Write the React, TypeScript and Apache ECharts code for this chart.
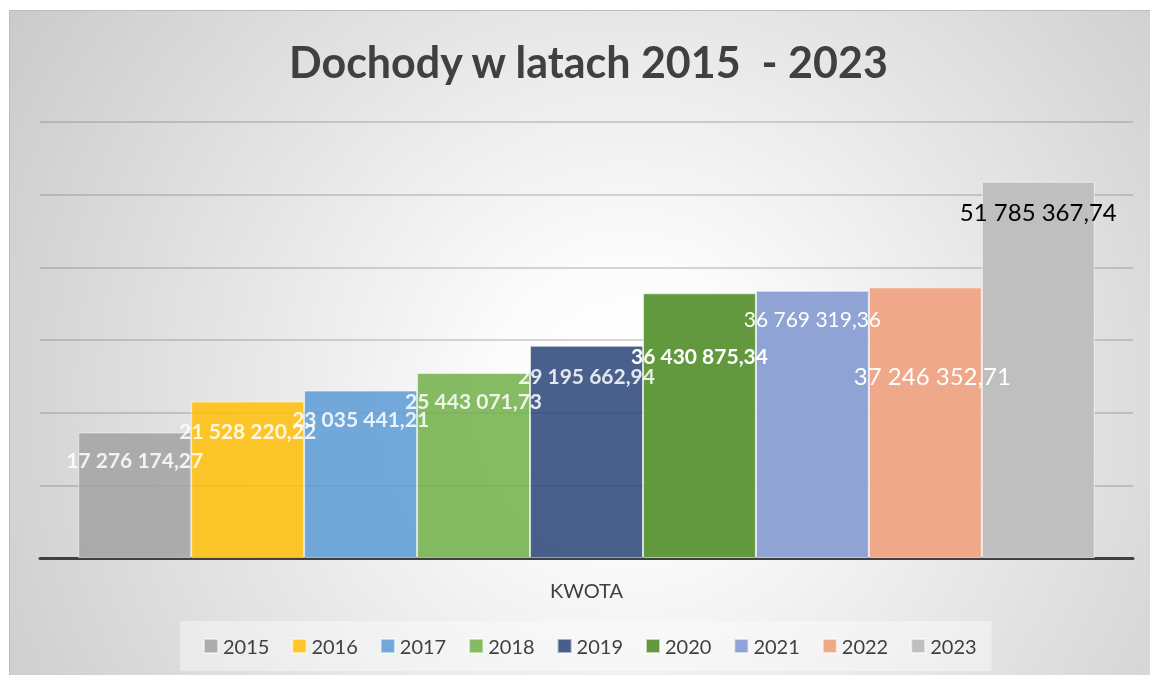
import React, { useEffect, useRef } from "react";
import * as echarts from "echarts";

const categories = ["KWOTA"];
const years = ["2015", "2016", "2017", "2018", "2019", "2020", "2021", "2022", "2023"];
const values = [
  17276174.27, 21528220.22, 23035441.21, 25443071.73, 29195662.94,
  36430875.34, 36769319.36, 37246352.71, 51785367.74,
];

const colors = ["#A2A2A2", "#FFBF08", "#5B9BD5", "#70AF48", "#284477", "#62993E", "#8FA3D4", "#F0A88A", "#BFBFBF"];
const opacities = [0.85, 0.85, 0.85, 0.85, 0.85, 1, 1, 1, 1];
const labelColors = ["#fff", "#fff", "#fff", "#fff", "#fff", "#fff", "#fff", "#fff", "#000"];
const labelWeights = ["bold", "bold", "bold", "bold", "bold", "bold", "normal", "normal", "normal"];
const labelSizes = [21, 21, 21, 21, 21, 21, 21, 24, 24];
const labelDistances = [17, 18, 17, 17, 19, 52, 17, 76, 18];
const labelShiftX = [0, 0, 0, 0, 0, 0, 0, 7, 0];

function fmt(v: number): string {
  const [i, d] = v.toFixed(2).split(".");
  return i.replace(/\B(?=(\d{3})+(?!\d))/g, " ") + "," + d;
}

export default function App() {
  const ref = useRef<HTMLDivElement>(null);
  useEffect(() => {
    if (!ref.current) return;
    const chart = echarts.init(ref.current, undefined, { renderer: "svg" });
    const font = "Lato, 'Open Sans', sans-serif";
    chart.setOption({
      animation: false,
      backgroundColor: {
        type: "radial",
        x: 620,
        y: 390,
        r: 880,
        global: true,
        colorStops: [
          { offset: 0, color: "#ffffff" },
          { offset: 0.15, color: "#fcfcfc" },
          { offset: 1, color: "#bebebe" },
        ],
      },
      title: {
        text: "Dochody w latach 2015  - 2023",
        left: 275,
        top: 25,
        textStyle: { fontSize: 43, fontWeight: "bold", color: "#404040", fontFamily: font },
      },
      graphic: [
        {
          type: "rect",
          shape: { x: 0.5, y: 0.5, width: 1200, height: 700 },
          style: { fill: "none", stroke: "#bcbcbc", lineWidth: 1 },
          silent: true,
        },
      ],
      legend: {
        data: years,
        left: 171,
        top: 611,
        padding: [15, 15, 15, 23],
        itemGap: 22,
        itemWidth: 14,
        itemHeight: 14,
        icon: "rect",
        backgroundColor: "rgba(255,255,255,0.4)",
        textStyle: { fontSize: 20, color: "#404040", fontFamily: font },
      },
      grid: { left: 31, right: 17, top: 112, bottom: 117, containLabel: false },
      xAxis: {
        type: "category",
        data: categories,
        axisLine: { lineStyle: { color: "#404040", width: 3 } },
        axisTick: { show: false },
        axisLabel: { fontSize: 20, color: "#404040", margin: 22, fontFamily: font },
      },
      yAxis: {
        type: "value",
        min: 0,
        max: 60000000,
        interval: 10000000,
        axisLabel: { show: false },
        axisLine: { show: false },
        axisTick: { show: false },
        splitLine: { lineStyle: { color: "rgba(80,80,80,0.3)", width: 1.5 } },
      },
      series: years.map((y, i) => ({
        name: y,
        type: "bar",
        data: [values[i]],
        barGap: "0%",
        barCategoryGap: "7%",
        itemStyle: {
          color: colors[i],
          opacity: opacities[i],
          borderColor: "rgba(255,255,255,0.6)",
          borderWidth: 1,
        },
        label: {
          show: true,
          position: "insideTop",
          distance: labelDistances[i],
          offset: [labelShiftX[i], 0],
          formatter: (p: any) => fmt(p.value),
          color: labelColors[i],
          fontWeight: labelWeights[i],
          fontSize: labelSizes[i],
          fontFamily: font,
        },
      })),
    });
    return () => chart.dispose();
  }, []);
  return (
    <div
      ref={ref}
      style={{ position: "fixed", left: 9, top: 10, width: 1141, height: 665 }}
    />
  );
}
